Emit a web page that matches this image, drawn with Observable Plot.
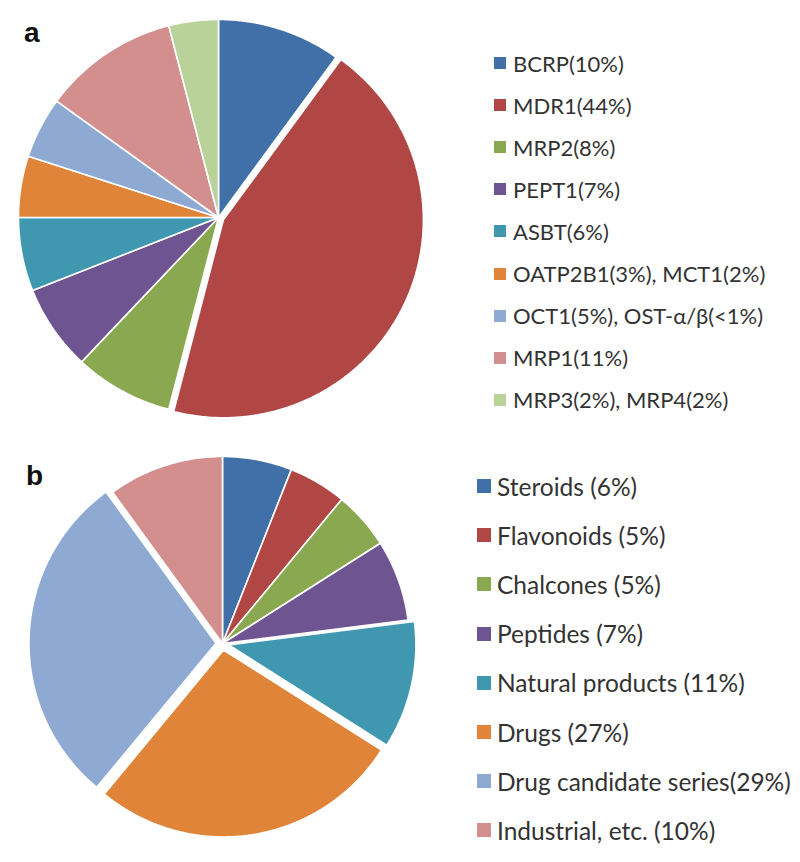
<!DOCTYPE html>
<html>
<head>
<meta charset="utf-8">
<script src="https://cdn.jsdelivr.net/npm/d3@7"></script>
<script src="https://cdn.jsdelivr.net/npm/@observablehq/plot@0.6"></script>
<style>
  html, body { margin: 0; padding: 0; background: #fff; }
  #root { position: relative; width: 800px; height: 862px; overflow: hidden; font-family: Lato, "Open Sans", sans-serif; }
  .panel-label { position: absolute; font-family: "Liberation Sans", Arial, sans-serif; font-weight: bold; font-size: 28px; color: #111; line-height: 1; }
  .legend { position: absolute; display: flex; flex-direction: column; color: #333; }
  .legend .row { display: flex; align-items: center; white-space: pre; }
  .legend .sw { flex: none; }
  .plot { position: absolute; left: 0; }
</style>
</head>
<body>
<div id="root"></div>
<script>
// ---------- data ----------
const categoriesA = ["BCRP(10%)", "MDR1(44%)", "MRP2(8%)", "PEPT1(7%)", "ASBT(6%)",
  "OATP2B1(3%), MCT1(2%)", "OCT1(5%), OST-\u03b1/\u03b2(<1%)", "MRP1(11%)", "MRP3(2%), MRP4(2%)"];
const valuesA = [10, 44, 8, 7, 6, 5, 5, 11, 4];
const explodedA = ["MDR1(44%)"];

const categoriesB = ["Steroids (6%)", "Flavonoids (5%)", "Chalcones (5%)", "Peptides (7%)",
  "Natural products (11%)", "Drugs (27%)", "Drug candidate series(29%)", "Industrial, etc. (10%)"];
const valuesB = [6, 5, 5, 7, 11, 27, 29, 10];
const explodedB = ["Natural products (11%)", "Drugs (27%)", "Drug candidate series(29%)"];

// ---------- style ----------
const paletteA = ["#4170a9", "#b04745", "#8aa84f", "#6e5591", "#3f98b0", "#e0843a", "#8eaad3", "#d38f8d", "#b9d29a"];
const paletteB = ["#4170a9", "#b04745", "#8aa84f", "#6e5591", "#3f98b0", "#e0843a", "#8eaad3", "#d38f8d"];

function sliceRows(categories, values, exploded, offset) {
  const arcs = d3.pie().sort(null).value(d => d.value)(categories.map((c, i) => ({key: c, value: values[i]})));
  const rows = [];
  for (const a of arcs) {
    const key = a.data.key;
    const mid = (a.startAngle + a.endAngle) / 2;
    const off = exploded.includes(key) ? offset : 0;
    const ox = off * Math.sin(mid), oy = off * Math.cos(mid);
    rows.push({key, x: ox, y: oy});
    const n = Math.max(2, Math.ceil((a.endAngle - a.startAngle) / (Math.PI / 360)));
    for (let k = 0; k <= n; k++) {
      const t = a.startAngle + (a.endAngle - a.startAngle) * k / n;
      rows.push({key, x: ox + Math.sin(t), y: oy + Math.cos(t)});
    }
  }
  return rows;
}

function pie(categories, values, exploded, palette, opts) {
  const {width, height, cx, cy, rx, ry, offset} = opts;
  return Plot.plot({
    width, height,
    margin: 0,
    x: {domain: [-1, 1], range: [cx - rx, cx + rx], axis: null},
    y: {domain: [-1, 1], range: [cy + ry, cy - ry], axis: null},
    color: {domain: categories, range: palette},
    marks: [
      Plot.line(sliceRows(categories, values, exploded, offset), {
        x: "x", y: "y", z: "key", fill: "key",
        stroke: "white", strokeWidth: 1.6, strokeLinejoin: "round",
        curve: "linear-closed"
      })
    ]
  });
}

function legend(categories, palette, o) {
  const div = document.createElement("div");
  div.className = "legend";
  div.style.left = o.left + "px";
  div.style.top = o.top + "px";
  div.style.fontSize = o.fontSize + "px";
  categories.forEach((c, i) => {
    const row = document.createElement("div");
    row.className = "row";
    row.style.height = o.rowH + "px";
    const sw = document.createElement("span");
    sw.className = "sw";
    sw.style.width = o.sw + "px";
    sw.style.height = o.sw + "px";
    sw.style.background = palette[i];
    sw.style.marginRight = o.gap + "px";
    const tx = document.createElement("span");
    tx.textContent = c;
    row.append(sw, tx);
    div.append(row);
  });
  return div;
}

const root = document.getElementById("root");

const plotA = pie(categoriesA, valuesA, explodedA, paletteA, {width: 460, height: 430, cx: 218, cy: 217, rx: 200, ry: 198, offset: 0.027});
plotA.classList.add("plot");
plotA.style.top = "0px";
root.append(plotA);

const plotB = pie(categoriesB, valuesB, explodedB, paletteB, {width: 460, height: 432, cx: 222, cy: 213, rx: 187, ry: 187, offset: 0.035});
plotB.classList.add("plot");
plotB.style.top = "430px";
root.append(plotB);

const la = document.createElement("div");
la.className = "panel-label"; la.textContent = "a"; la.style.left = "24px"; la.style.top = "19px";
root.append(la);
const lb = document.createElement("div");
lb.className = "panel-label"; lb.textContent = "b"; lb.style.left = "26px"; lb.style.top = "462px";
root.append(lb);

root.append(legend(categoriesA, paletteA, {left: 494, top: 42, rowH: 42.1, fontSize: 22, sw: 12, gap: 7}));
root.append(legend(categoriesB, paletteB, {left: 477, top: 461.5, rowH: 49.2, fontSize: 24.5, sw: 14, gap: 6}));
</script>
</body>
</html>
